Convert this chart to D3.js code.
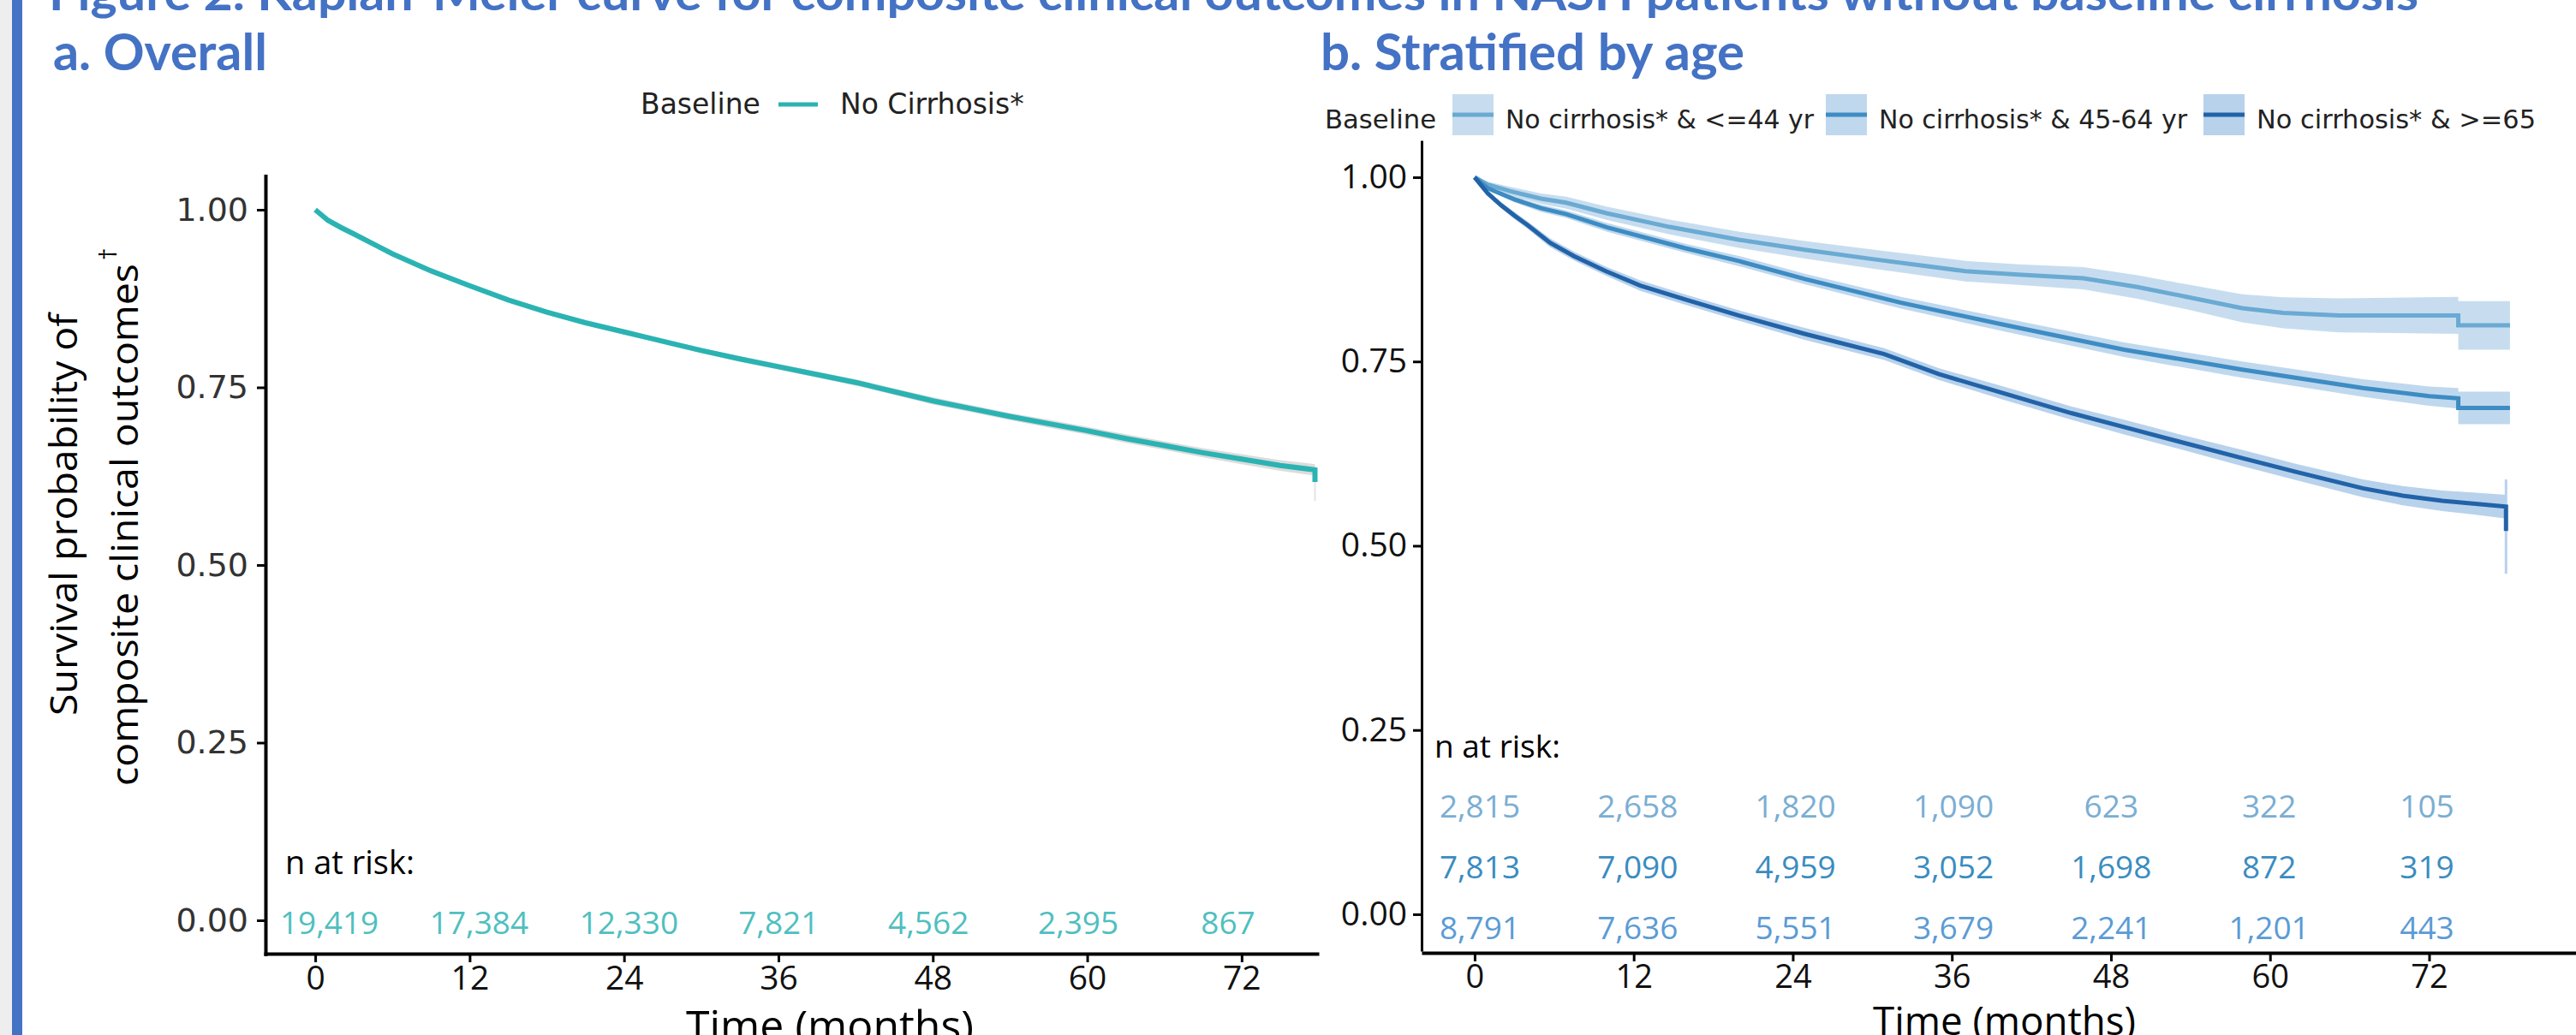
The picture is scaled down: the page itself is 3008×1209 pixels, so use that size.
<!DOCTYPE html>
<html>
<head>
<meta charset="utf-8">
<script src="https://cdn.jsdelivr.net/npm/d3@7"></script>
<style>
  body { margin: 0; background: #fff; }
  svg { display: block; }
</style>
</head>
<body>
<svg id="fig" width="3008" height="1209"></svg>
<script>
// ---------- data ----------
const figTitle = "Figure 2. Kaplan-Meier curve for composite clinical outcomes in NASH patients without baseline cirrhosis";
const riskTimes = [0, 12, 24, 36, 48, 60, 72];
const yTicks = [0, 0.25, 0.5, 0.75, 1];

// a. overall
const timeAll = [0, 1, 2, 3, 4.5, 6, 9, 12, 15, 18, 21, 24, 27, 30, 33, 36, 39, 42, 45, 48, 51, 54, 57, 60, 63, 66, 69, 72, 75, 77.7, 77.7];
const survAll = [1, 0.985, 0.975, 0.966, 0.952, 0.938, 0.914, 0.893, 0.873, 0.856, 0.841, 0.828, 0.815, 0.802, 0.79, 0.779, 0.768, 0.757, 0.744, 0.731, 0.72, 0.709, 0.699, 0.689, 0.678, 0.668, 0.658, 0.649, 0.64, 0.634, 0.617];
const ciAll   = [0, 0.001, 0.0015, 0.002, 0.002, 0.0025, 0.0025, 0.003, 0.003, 0.003, 0.003, 0.0035, 0.0035, 0.0035, 0.004, 0.004, 0.004, 0.0045, 0.0045, 0.005, 0.005, 0.005, 0.0055, 0.0055, 0.006, 0.006, 0.0065, 0.007, 0.0075, 0.008, 0.008];
const riskAll = ["19,419", "17,384", "12,330", "7,821", "4,562", "2,395", "867"];

// b. stratified by age
const groups = ["No cirrhosis* & <=44 yr", "No cirrhosis* & 45-64 yr", "No cirrhosis* & >=65"];

const time44 = [0, 1, 2.7, 5, 6.9, 10, 14.7, 20, 24.9, 30, 37, 41, 45.9, 50, 53.7, 57.9, 61, 65.2, 74.2, 74.2, 78.1];
const surv44 = [1, 0.99, 0.981, 0.971, 0.9655, 0.951, 0.9326, 0.915, 0.9016, 0.889, 0.8726, 0.868, 0.863, 0.851, 0.8378, 0.8223, 0.816, 0.8126, 0.8126, 0.799, 0.799];
const ci44   = [0, 0.004, 0.006, 0.007, 0.008, 0.009, 0.01, 0.011, 0.012, 0.013, 0.014, 0.014, 0.015, 0.016, 0.017, 0.019, 0.021, 0.023, 0.025, 0.033, 0.033];

const time4564 = [0, 1, 3, 5, 6.9, 10, 15.9, 20, 24.9, 32.1, 39.9, 49, 57.9, 67, 72, 74.2, 74.2, 78.1];
const surv4564 = [1, 0.985, 0.97, 0.958, 0.95, 0.932, 0.9036, 0.886, 0.862, 0.83, 0.8, 0.766, 0.739, 0.714, 0.703, 0.7, 0.687, 0.687];
const ci4564   = [0, 0.003, 0.004, 0.005, 0.005, 0.006, 0.006, 0.007, 0.007, 0.008, 0.009, 0.01, 0.011, 0.012, 0.013, 0.014, 0.022, 0.022];

const time65 = [0, 1, 2, 3, 4, 5.7, 7.5, 9.9, 12.5, 15.9, 20, 24.9, 30.9, 35, 39.9, 45, 49, 53, 57.9, 62, 67, 70, 73, 75.5, 77.8, 77.8];
const surv65 = [1, 0.978, 0.962, 0.948, 0.935, 0.911, 0.893, 0.8726, 0.853, 0.834, 0.812, 0.7875, 0.76, 0.733, 0.707, 0.68, 0.661, 0.642, 0.619, 0.6, 0.578, 0.568, 0.561, 0.557, 0.553, 0.52];
const ci65   = [0, 0.003, 0.004, 0.005, 0.005, 0.006, 0.006, 0.006, 0.007, 0.007, 0.007, 0.008, 0.008, 0.008, 0.009, 0.009, 0.01, 0.01, 0.011, 0.011, 0.012, 0.013, 0.014, 0.015, 0.016, 0.016];
const ciEnd65 = [0.462, 0.59];

const risk44   = ["2,815", "2,658", "1,820", "1,090", "623", "322", "105"];
const risk4564 = ["7,813", "7,090", "4,959", "3,052", "1,698", "872", "319"];
const risk65   = ["8,791", "7,636", "5,551", "3,679", "2,241", "1,201", "443"];

// ---------- styles ----------
const blue = "#4472c4";
const teal = "#2bb3b3";
const fTitle = "Lato, 'Open Sans', sans-serif";
const fText = "'Open Sans', 'Noto Sans', sans-serif";
const fGG = "'DejaVu Sans', sans-serif";

const lineCols = ["#6aaad3", "#3d8cc3", "#2263a8"];
const bandCols = ["#c7ddef", "#bfd8ee", "#b8d2ec"];
const riskCols = ["#7aaed3", "#3a8cc0", "#5b9bd5"];

const svg = d3.select("#fig");

// page decoration
svg.append("rect").attr("width", 14).attr("height", 1209).attr("fill", "#eeeeee");
svg.append("rect").attr("x", 14).attr("width", 12).attr("height", 1209).attr("fill", blue);

svg.append("text")
  .attr("x", 57).attr("y", 12)
  .attr("font-family", fTitle).attr("font-weight", 700).attr("font-size", 56)
  .attr("fill", blue)
  .attr("textLength", 2767).attr("lengthAdjust", "spacingAndGlyphs")
  .text(figTitle);

function panelTitle(x, txt, len) {
  svg.append("text")
    .attr("x", x).attr("y", 82)
    .attr("font-family", fTitle).attr("font-weight", 700).attr("font-size", 60)
    .attr("fill", blue)
    .attr("textLength", len).attr("lengthAdjust", "spacingAndGlyphs")
    .text(txt);
}
panelTitle(62, "a. Overall", 250);
panelTitle(1542, "b. Stratified by age", 495);

function pts(ts, ss, cs) {
  return ts.map((t, i) => ({ t: t, s: ss[i], c: cs[i] }));
}

function styleAxis(g, lw) {
  g.select(".domain").attr("stroke", "#000").attr("stroke-width", lw);
  g.selectAll(".tick line").attr("stroke", "#000").attr("stroke-width", 3);
}

// ================= panel a =================
const xA = d3.scaleLinear().domain([-4, 78]).range([308, 1540]);
const yA = d3.scaleLinear().domain([-0.05, 1.05]).range([1116.5, 203.5]);

const gA = svg.append("g");

const dataAll = pts(timeAll, survAll, ciAll);
gA.append("path")
  .datum(dataAll)
  .attr("fill", "#dcdcdc")
  .attr("d", d3.area().x(d => xA(d.t)).y0(d => yA(d.s - d.c)).y1(d => yA(d.s + d.c)));
gA.append("line")
  .attr("x1", xA(77.7)).attr("x2", xA(77.7))
  .attr("y1", yA(0.617)).attr("y2", yA(0.59))
  .attr("stroke", "#e4e4e4").attr("stroke-width", 2);
gA.append("path")
  .datum(dataAll)
  .attr("fill", "none").attr("stroke", teal).attr("stroke-width", 6)
  .attr("d", d3.line().x(d => xA(d.t)).y(d => yA(d.s)));

const axAx = gA.append("g").attr("transform", "translate(0,1114)")
  .call(d3.axisBottom(xA).tickValues(riskTimes).tickSize(10).tickSizeOuter(0).tickPadding(4));
styleAxis(axAx, 4);
axAx.selectAll("text").attr("font-family", fText).attr("font-size", 39).attr("fill", "#111");

const ayA = gA.append("g").attr("transform", "translate(310,0)")
  .call(d3.axisLeft(yA).tickValues(yTicks).tickFormat(d3.format(".2f")).tickSize(10).tickSizeOuter(0).tickPadding(10));
styleAxis(ayA, 4);
ayA.selectAll("text").attr("font-family", fGG).attr("font-size", 38).attr("fill", "#333");

gA.append("text")
  .attr("x", 801).attr("y", 1216)
  .attr("font-family", fText).attr("font-size", 49).attr("fill", "#000")
  .attr("textLength", 336).attr("lengthAdjust", "spacingAndGlyphs")
  .text("Time (months)");

// y axis title (two lines, rotated)
gA.append("text")
  .attr("transform", "translate(90,836) rotate(-90)")
  .attr("font-family", fText).attr("font-size", 44).attr("fill", "#000")
  .attr("textLength", 470).attr("lengthAdjust", "spacingAndGlyphs")
  .text("Survival probability of");
gA.append("text")
  .attr("transform", "translate(161,918) rotate(-90)")
  .attr("font-family", fText).attr("font-size", 44).attr("fill", "#000")
  .attr("textLength", 610).attr("lengthAdjust", "spacingAndGlyphs")
  .text("composite clinical outcomes");
gA.append("text")
  .attr("transform", "translate(136,304) rotate(-90)")
  .attr("font-family", fText).attr("font-size", 28).attr("fill", "#000")
  .text("\u2020");

// legend a
gA.append("text").attr("x", 748).attr("y", 133)
  .attr("font-family", fGG).attr("font-size", 33).attr("fill", "#222").text("Baseline");
gA.append("line").attr("x1", 909).attr("x2", 955).attr("y1", 122).attr("y2", 122)
  .attr("stroke", teal).attr("stroke-width", 5);
gA.append("text").attr("x", 981).attr("y", 133)
  .attr("font-family", fGG).attr("font-size", 33).attr("fill", "#222").text("No Cirrhosis*");

// risk table a
const colA = d3.scalePoint().domain(riskTimes).range([384.6, 1434]);
gA.append("text").attr("x", 333).attr("y", 1021)
  .attr("font-family", fText).attr("font-size", 38).attr("fill", "#000").text("n at risk:");
gA.selectAll(".riskA").data(riskAll).enter().append("text")
  .attr("class", "riskA")
  .attr("x", (d, i) => colA(riskTimes[i])).attr("y", 1091)
  .attr("text-anchor", "middle")
  .attr("font-family", fText).attr("font-size", 37).attr("fill", "#4fbfbf")
  .text(d => d);

// ================= panel b =================
const xB = d3.scaleLinear().domain([-4, 83.08]).range([1660, 3008]);
const yB = d3.scaleLinear().domain([-0.05, 1.05]).range([1111, 164]);

const gB = svg.append("g");
const series = [pts(time44, surv44, ci44), pts(time4564, surv4564, ci4564), pts(time65, surv65, ci65)];

gB.selectAll(".band").data(series).enter().append("path")
  .attr("class", "band")
  .attr("fill", (d, i) => bandCols[i])
  .attr("d", d3.area().x(d => xB(d.t)).y0(d => yB(d.s - d.c)).y1(d => yB(d.s + d.c)));

gB.append("line")
  .attr("x1", xB(77.8)).attr("x2", xB(77.8))
  .attr("y1", yB(ciEnd65[0])).attr("y2", yB(ciEnd65[1]))
  .attr("stroke", bandCols[2]).attr("stroke-width", 3);

gB.selectAll(".curve").data(series).enter().append("path")
  .attr("class", "curve")
  .attr("fill", "none")
  .attr("stroke", (d, i) => lineCols[i]).attr("stroke-width", 5)
  .attr("d", d3.line().x(d => xB(d.t)).y(d => yB(d.s)));

const axBx = gB.append("g").attr("transform", "translate(0,1113)")
  .call(d3.axisBottom(xB).tickValues(riskTimes).tickSize(10).tickSizeOuter(0).tickPadding(4));
styleAxis(axBx, 4);
axBx.selectAll("text").attr("font-family", fText).attr("font-size", 38).attr("fill", "#111");

const ayB = gB.append("g").attr("transform", "translate(1660,0)")
  .call(d3.axisLeft(yB).tickValues(yTicks).tickFormat(d3.format(".2f")).tickSize(10).tickSizeOuter(0).tickPadding(7));
styleAxis(ayB, 3);
ayB.selectAll("text").attr("font-family", fText).attr("font-size", 39).attr("fill", "#111");

gB.append("text")
  .attr("x", 2187).attr("y", 1209)
  .attr("font-family", fText).attr("font-size", 46).attr("fill", "#000")
  .attr("textLength", 307).attr("lengthAdjust", "spacingAndGlyphs")
  .text("Time (months)");

// legend b
gB.append("text").attr("x", 1547).attr("y", 150)
  .attr("font-family", fGG).attr("font-size", 31).attr("fill", "#222")
  .attr("textLength", 130).attr("lengthAdjust", "spacingAndGlyphs").text("Baseline");
const legX = [1696, 2132, 2573];
const legLen = [360, 360, 326];
groups.forEach((name, i) => {
  gB.append("rect").attr("x", legX[i]).attr("y", 110).attr("width", 48).attr("height", 48)
    .attr("fill", bandCols[i]);
  gB.append("line").attr("x1", legX[i]).attr("x2", legX[i] + 48).attr("y1", 134).attr("y2", 134)
    .attr("stroke", lineCols[i]).attr("stroke-width", 5);
  gB.append("text").attr("x", legX[i] + 62).attr("y", 150)
    .attr("font-family", fGG).attr("font-size", 31).attr("fill", "#222")
    .attr("textLength", legLen[i]).attr("lengthAdjust", "spacingAndGlyphs")
    .text(name);
});

// risk table b
const colB = d3.scalePoint().domain(riskTimes).range([1728, 2834]);
gB.append("text").attr("x", 1675).attr("y", 885)
  .attr("font-family", fText).attr("font-size", 37).attr("fill", "#000").text("n at risk:");
const riskRows = [risk44, risk4564, risk65];
const rowY = [955, 1026, 1097];
riskRows.forEach((row, r) => {
  gB.selectAll(".riskB" + r).data(row).enter().append("text")
    .attr("class", "riskB" + r)
    .attr("x", (d, i) => colB(riskTimes[i])).attr("y", rowY[r])
    .attr("text-anchor", "middle")
    .attr("font-family", fText).attr("font-size", 37).attr("fill", riskCols[r])
    .text(d => d);
});
</script>
</body>
</html>
